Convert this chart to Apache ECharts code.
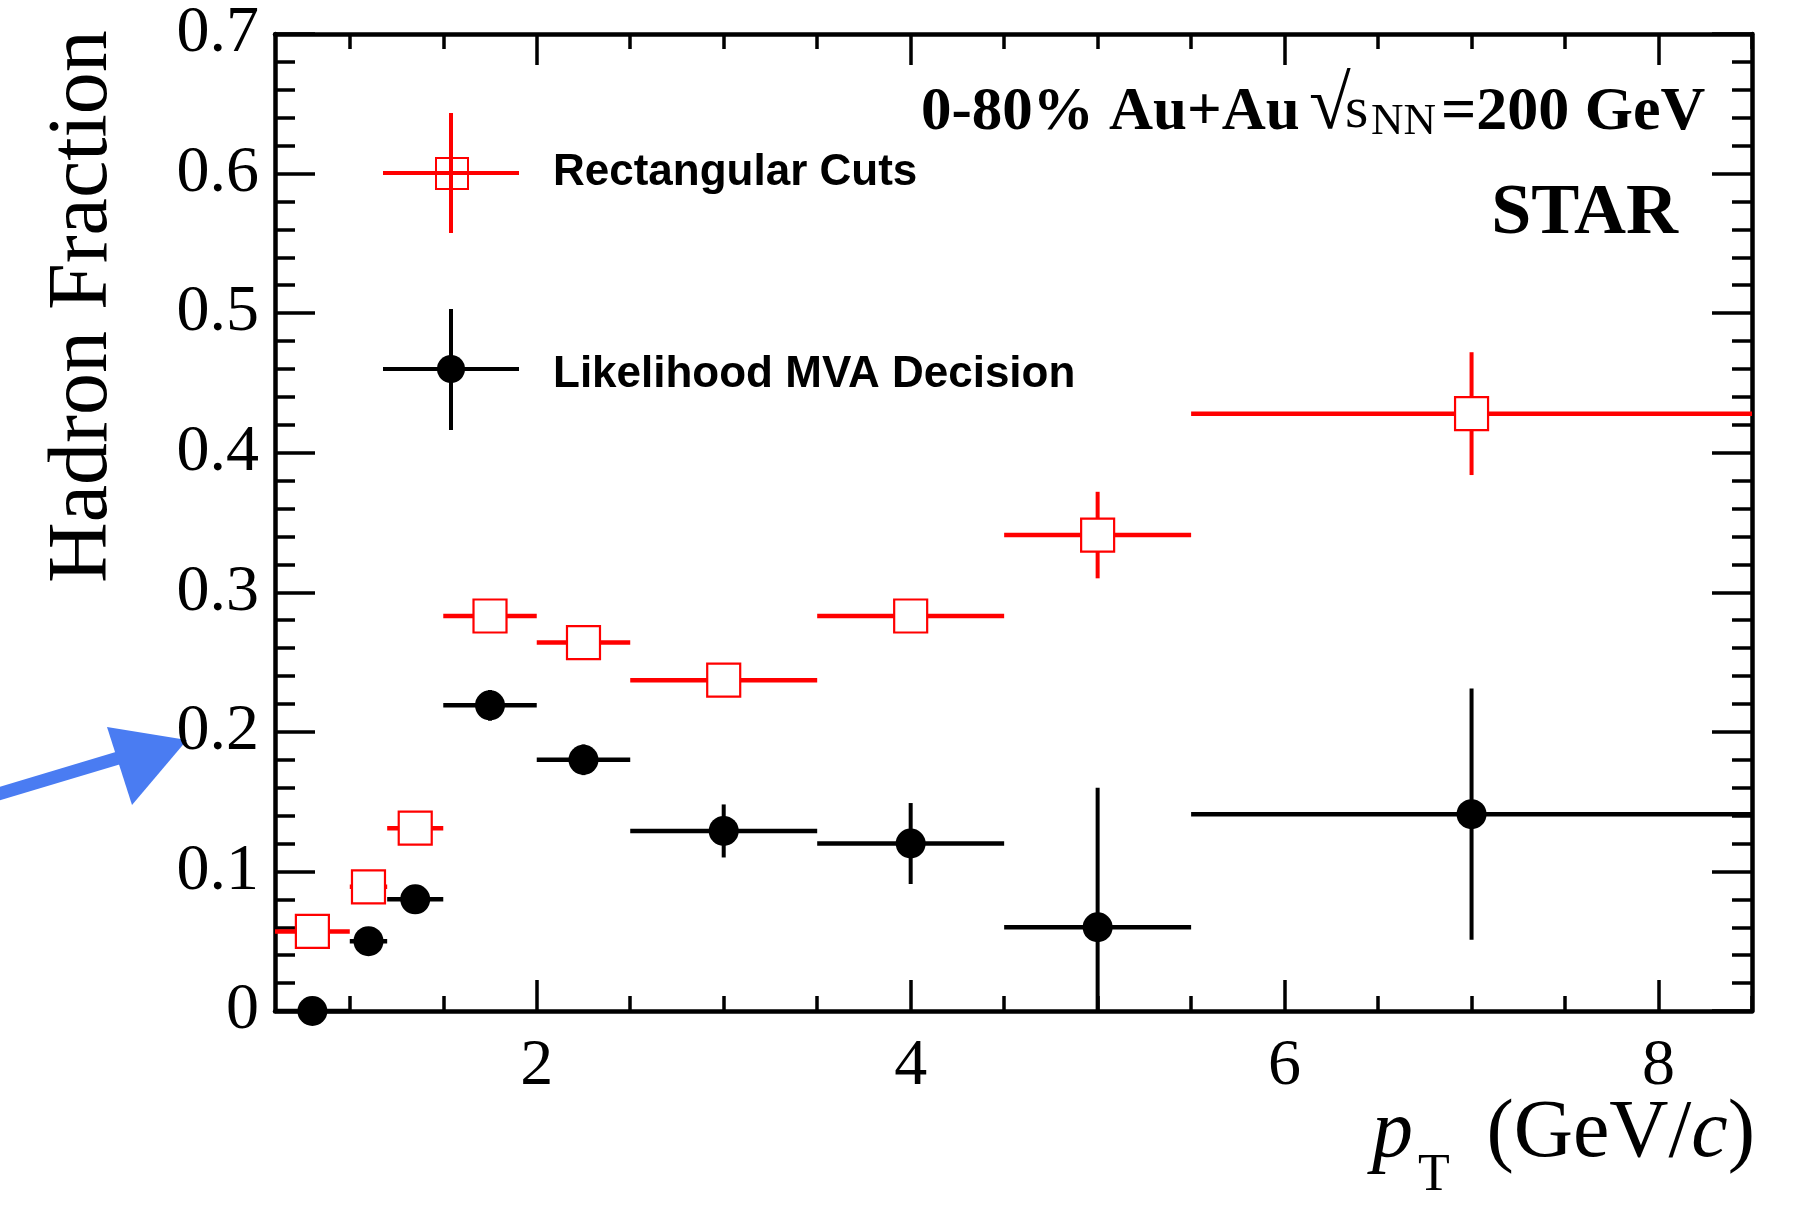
<!DOCTYPE html>
<html>
<head>
<meta charset="utf-8">
<script src="https://cdn.jsdelivr.net/npm/echarts@6/dist/echarts.min.js"></script>
<style>
  html, body { margin: 0; background: #fff; }
  #chart { width: 1794px; height: 1211px; }
</style>
</head>
<body>
<div id="chart"></div>
<script>
// pT bins (GeV/c)
const binLow    = [0.6, 1.0, 1.2, 1.5, 2.0, 2.5, 3.5, 4.5, 5.5];
const binHigh   = [1.0, 1.2, 1.5, 2.0, 2.5, 3.5, 4.5, 5.5, 8.5];
const binCenter = [0.8, 1.1, 1.35, 1.75, 2.25, 3.0, 4.0, 5.0, 7.0];

// hadron fraction, rectangular cuts
const rectCuts = [0.057, 0.089, 0.131, 0.283, 0.264, 0.237, 0.283, 0.341, 0.428];
const rectErr  = [0.004, 0.004, 0.005, 0.006, 0.006, 0.008, 0.010, 0.031, 0.044];

// hadron fraction, likelihood MVA decision
const mvaDecision = [0.000, 0.050, 0.080, 0.219, 0.180, 0.129, 0.120, 0.060, 0.141];
const mvaErr      = [0.010, 0.010, 0.010, 0.011, 0.011, 0.019, 0.029, 0.100, 0.090];

const xMajor = [2, 4, 6, 8];
const xMinor = [1, 1.5, 2.5, 3, 3.5, 4.5, 5, 5.5, 6.5, 7, 7.5, 8.5];

const serif = "'Liberation Serif', 'DejaVu Serif', serif";
const sans = "'Liberation Sans', Arial, sans-serif";

const chart = echarts.init(document.getElementById("chart"));

const toRows = (vals, errs) => vals.map((v, i) => [binCenter[i], v, binLow[i], binHigh[i], errs[i]]);

// one point: horizontal bin bar, vertical error bar, marker on top
const makeRender = (color, lw, marker) => (params, api) => {
    const xc = api.value(0), y = api.value(1), xl = api.value(2), xh = api.value(3), e = api.value(4);
    const c = api.coord([xc, y]);
    const l = api.coord([xl, y]);
    const h = api.coord([xh, y]);
    const lo = api.coord([xc, Math.max(0, y - e)]);
    const hi = api.coord([xc, y + e]);
    const line = { stroke: color, lineWidth: lw };
    const kids = [
        { type: "line", shape: { x1: l[0], y1: c[1], x2: h[0], y2: c[1] }, style: line },
        { type: "line", shape: { x1: c[0], y1: lo[1], x2: c[0], y2: hi[1] }, style: { stroke: color, lineWidth: lw - 0.5 } },
    ];
    if (marker === "square") {
        kids.push({ type: "rect", shape: { x: c[0] - 16.5, y: c[1] - 16.5, width: 33, height: 33 },
            style: { fill: "#fff", stroke: color, lineWidth: 2.2 } });
    } else {
        kids.push({ type: "circle", shape: { cx: c[0], cy: c[1], r: 15 }, style: { fill: color } });
    }
    return { type: "group", children: kids };
};

const tickStyle = { color: "#000", width: 3.5 };
const noSplit = { show: false };

const xAxisBase = { type: "value", min: 0.6, max: 8.5, splitLine: noSplit };
const yAxisBase = { type: "value", min: 0, max: 0.7, interval: 0.1, splitLine: noSplit };

chart.setOption({
    animation: false,
    backgroundColor: "#fff",
    grid: { left: 275, right: 42, top: 34, bottom: 200 },
    xAxis: [
        { ...xAxisBase, position: "bottom",
          axisLine: { lineStyle: { color: "#000", width: 4.5 } },
          axisTick: { inside: true, length: 31, lineStyle: tickStyle, customValues: xMajor },
          axisLabel: { customValues: xMajor, color: "#000", fontFamily: serif, fontSize: 66, margin: 23 } },
        { ...xAxisBase, position: "bottom", axisLine: { show: false },
          axisTick: { inside: true, length: 15, lineStyle: tickStyle, customValues: xMinor },
          axisLabel: { show: false } },
        { ...xAxisBase, position: "top",
          axisLine: { lineStyle: { color: "#000", width: 4.5 } },
          axisTick: { inside: true, length: 31, lineStyle: tickStyle, customValues: xMajor },
          axisLabel: { show: false } },
        { ...xAxisBase, position: "top", axisLine: { show: false },
          axisTick: { inside: true, length: 15, lineStyle: tickStyle, customValues: xMinor },
          axisLabel: { show: false } },
    ],
    yAxis: [
        { ...yAxisBase, position: "left",
          axisLine: { lineStyle: { color: "#000", width: 4.5 } },
          axisTick: { inside: true, length: 40, lineStyle: tickStyle },
          minorTick: { show: true, splitNumber: 5, length: 20, lineStyle: tickStyle },
          axisLabel: { color: "#000", fontFamily: serif, fontSize: 66, margin: 16 } },
        { ...yAxisBase, position: "right",
          axisLine: { lineStyle: { color: "#000", width: 4.5 } },
          axisTick: { inside: true, length: 40, lineStyle: tickStyle },
          minorTick: { show: true, splitNumber: 5, length: 20, lineStyle: tickStyle },
          axisLabel: { show: false } },
    ],
    series: [
        { name: "Likelihood MVA Decision", type: "custom", clip: false, z: 3,
          renderItem: makeRender("#000", 4.5, "circle"), data: toRows(mvaDecision, mvaErr) },
        { name: "Rectangular Cuts", type: "custom", clip: false, z: 4,
          renderItem: makeRender("#ff0000", 4.5, "square"), data: toRows(rectCuts, rectErr) },
    ],
    graphic: [
        // legend
        { type: "line", shape: { x1: 383, y1: 173, x2: 519, y2: 173 }, style: { stroke: "#ff0000", lineWidth: 4 } },
        { type: "line", shape: { x1: 451, y1: 113, x2: 451, y2: 233 }, style: { stroke: "#ff0000", lineWidth: 4 } },
        { type: "rect", shape: { x: 436, y: 158, width: 32, height: 31 }, style: { fill: "none", stroke: "#ff0000", lineWidth: 2 } },
        { type: "text", x: 553, y: 173, style: { text: "Rectangular Cuts", font: "bold 44px " + sans, fill: "#000", textVerticalAlign: "middle" } },
        { type: "line", shape: { x1: 383, y1: 369, x2: 519, y2: 369 }, style: { stroke: "#000", lineWidth: 4 } },
        { type: "line", shape: { x1: 451, y1: 309, x2: 451, y2: 430 }, style: { stroke: "#000", lineWidth: 4 } },
        { type: "circle", shape: { cx: 451, cy: 369, r: 14 }, style: { fill: "#000" } },
        { type: "text", x: 553, y: 375, style: { text: "Likelihood MVA Decision", font: "bold 44px " + sans, fill: "#000", textVerticalAlign: "middle" } },

        // collision system label
        { type: "text", x: 921, y: 113, style: { text: "0-80% Au+Au", font: "bold 61px " + serif, fill: "#000", textVerticalAlign: "middle" } },
        { type: "text", x: 1309, y: 108, style: { text: "\u221A", font: "76px " + serif, fill: "#000", textVerticalAlign: "middle" } },
        { type: "text", x: 1345, y: 111, style: { text: "s", font: "60px " + serif, fill: "#000", textVerticalAlign: "middle" } },
        { type: "text", x: 1371, y: 122, style: { text: "NN", font: "45px " + serif, fill: "#000", textVerticalAlign: "middle" } },
        { type: "text", x: 1441, y: 113, style: { text: "=200 GeV", font: "bold 62px " + serif, fill: "#000", textVerticalAlign: "middle" } },
        { type: "text", x: 1678, y: 214, style: { text: "STAR", font: "bold 72px " + serif, fill: "#000", textAlign: "right", textVerticalAlign: "middle" } },

        // axis titles
        { type: "text", x: 84, y: 583, rotation: Math.PI / 2,
          style: { text: "Hadron Fraction", font: "84px " + serif, fill: "#000", textAlign: "left", textVerticalAlign: "middle" } },
        { type: "text", x: 1372, y: 1134, style: { text: "p", font: "italic 82px " + serif, fill: "#000", textVerticalAlign: "middle" } },
        { type: "text", x: 1418, y: 1176, style: { text: "T", font: "52px " + serif, fill: "#000", textVerticalAlign: "middle" } },
        { type: "text", x: 1755, y: 1134,
          style: { text: "(GeV/{i|c})", font: "82px " + serif, fill: "#000", textAlign: "right", textVerticalAlign: "middle",
                   rich: { i: { font: "italic 82px " + serif, fill: "#000" } } } },

        // hand-drawn arrow pointing at the 0.2 label
        { type: "line", shape: { x1: -5, y1: 795, x2: 125, y2: 756 }, style: { stroke: "#4a7cf2", lineWidth: 13 } },
        { type: "polygon", shape: { points: [[187, 740], [107, 727], [132, 805]] }, style: { fill: "#4a7cf2" } },
    ],
});
</script>
</body>
</html>
